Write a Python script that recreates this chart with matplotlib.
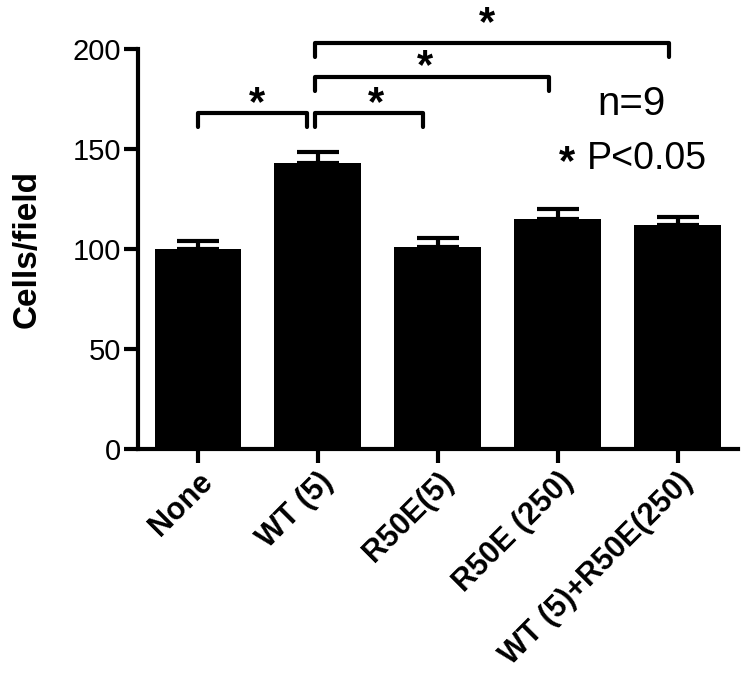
import matplotlib
matplotlib.use('Agg')
import matplotlib.pyplot as plt
import numpy as np

plt.rcParams['font.family'] = ['Liberation Sans', 'DejaVu Sans']

# data
groups = ['None', 'WT (5)', 'R50E(5)', 'R50E (250)', 'WT (5)+R50E(250)']
means = [100, 143, 101, 115, 112]
sems = [4, 5.5, 4.5, 5, 4]

# significance brackets: (left x, right x, height)
brackets = [(0.0, 0.91, 168), (0.975, 1.875, 168), (0.975, 2.925, 186), (0.975, 3.925, 203)]
star_pos = [(0.49, 172.5), (1.48, 172.5), (1.89, 191), (2.41, 212.5)]

fig = plt.figure(figsize=(7.46, 6.74), dpi=100)
ax = fig.add_axes([0.185, 0.334, 0.804, 0.593])

x = np.arange(len(groups))
ax.bar(x, means, width=0.725, color='black')
ax.errorbar(x, means, yerr=[np.zeros(len(sems)), sems], fmt='none', ecolor='black',
            elinewidth=3, capsize=15, capthick=3)

for x0, x1, h in brackets:
    ax.plot([x0, x0, x1, x1], [h - 7, h, h, h - 7], color='black', lw=3,
            solid_capstyle='round', solid_joinstyle='round', clip_on=False)
for sx, sy in star_pos:
    ax.text(sx, sy, '*', ha='center', va='center', fontsize=30, fontweight='bold', clip_on=False)

ax.text(3.61, 167, 'n=9', ha='center', va='baseline', fontsize=29)
ax.text(3.075, 143, '*', ha='center', va='center', fontsize=30, fontweight='bold')
ax.text(3.24, 140, 'P<0.05', ha='left', va='baseline', fontsize=27)

ax.set_xlim(-0.5, 4.5)
ax.set_ylim(0, 200)
ax.set_yticks([0, 50, 100, 150, 200])
ax.set_xticks(x)
ax.set_xticklabels(groups, rotation=45, ha='right', rotation_mode='anchor',
                   fontsize=22, fontweight='bold')
ax.tick_params(axis='y', labelsize=21, width=3, length=10, pad=2)
ax.tick_params(axis='x', width=3, length=10, pad=3)
ax.set_ylabel('Cells/field', fontsize=24, fontweight='bold', labelpad=22)

for side in ['top', 'right']:
    ax.spines[side].set_visible(False)
for side in ['left', 'bottom']:
    ax.spines[side].set_linewidth(3)

fig.savefig('out.png', dpi=100)
